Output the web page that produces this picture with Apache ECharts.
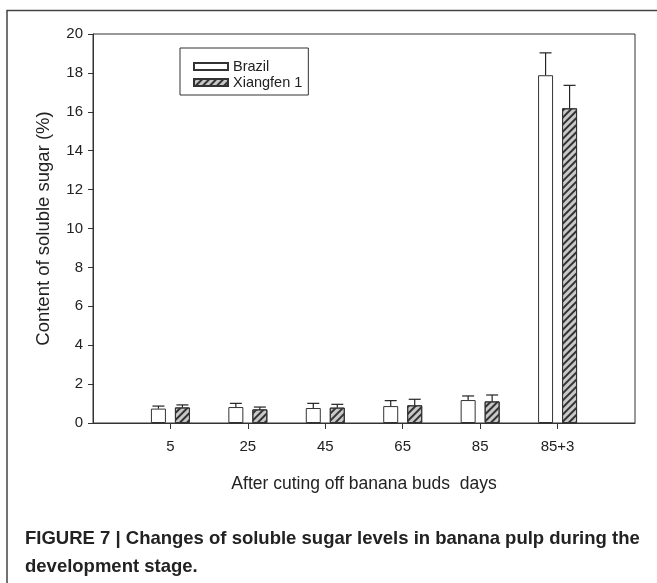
<!DOCTYPE html>
<html>
<head>
<meta charset="utf-8">
<script src="https://cdn.jsdelivr.net/npm/echarts@6/dist/echarts.min.js"></script>
<style>
  html, body { margin: 0; padding: 0; background: #fff; }
  #chart { width: 657px; height: 583px; }
</style>
</head>
<body>
<div id="chart"></div>
<script>
// categories (empty slots pad the axis on both ends)
const days = ['', '5', '25', '45', '65', '85', '85+3', ''];
const brazil = [0.74, 0.82, 0.77, 0.87, 1.18, 17.88];
const brazilErr = [0.13, 0.19, 0.24, 0.28, 0.21, 1.15];
const xiangfen = [0.80, 0.70, 0.79, 0.91, 1.11, 16.18];
const xiangfenErr = [0.13, 0.12, 0.17, 0.31, 0.33, 1.18];
const yTicks = { min: 0, max: 20, interval: 2 };

const chart = echarts.init(document.getElementById('chart'));

function barData(vals) {
  return vals.map((v, i) => [i + 1, v]);
}
function errData(vals, errs) {
  return vals.map((v, i) => [i + 1, v, errs[i]]);
}
// upper error bar with cap, shifted to sit on its own bar
function errRender(offset) {
  return function (params, api) {
    const base = api.coord([api.value(0), api.value(1)]);
    const top = api.coord([api.value(0), api.value(1) + api.value(2)]);
    const x = base[0] + offset;
    const st = { stroke: '#222', lineWidth: 1.2 };
    return {
      type: 'group',
      children: [
        { type: 'line', shape: { x1: x, y1: base[1], x2: x, y2: top[1] }, style: st },
        { type: 'line', shape: { x1: x - 6, y1: top[1], x2: x + 6, y2: top[1] }, style: st }
      ]
    };
  };
}

const txt = { fontFamily: 'Liberation Sans', color: '#222' };

chart.setOption({
  animation: false,
  grid: {
    left: 93, right: 22, top: 34, bottom: 160,
    show: true, borderColor: '#333', borderWidth: 1
  },
  legend: {
    orient: 'vertical',
    left: 180, top: 48,
    padding: [11, 6, 5, 13],
    itemGap: 1,
    itemWidth: 34, itemHeight: 7,
    icon: 'rect',
    borderColor: '#333', borderWidth: 1,
    textStyle: { ...txt, fontSize: 14.5 },
    data: ['Brazil', 'Xiangfen 1']
  },
  xAxis: {
    type: 'category',
    data: days,
    boundaryGap: false,
    name: 'After cuting off banana buds  days',
    nameLocation: 'middle',
    nameGap: 52,
    nameTextStyle: { ...txt, fontSize: 17.5 },
    axisLine: { lineStyle: { color: '#333', width: 1 } },
    axisTick: {
      length: 6, inside: false,
      interval: (i, v) => v !== '',
      lineStyle: { color: '#333' }
    },
    axisLabel: { ...txt, fontSize: 15, margin: 16, interval: 0 },
    splitLine: { show: false }
  },
  yAxis: {
    type: 'value',
    min: yTicks.min, max: yTicks.max, interval: yTicks.interval,
    name: 'Content of soluble sugar (%)',
    nameLocation: 'middle',
    nameGap: 40,
    nameTextStyle: { ...txt, fontSize: 18.5 },
    axisLine: { show: true, lineStyle: { color: '#333', width: 1 } },
    axisTick: { show: true, length: 5, lineStyle: { color: '#333' } },
    axisLabel: { ...txt, fontSize: 15, margin: 10 },
    splitLine: { show: false }
  },
  series: [
    {
      name: 'Brazil',
      type: 'bar',
      barWidth: 15,
      barGap: '60%',
      data: barData(brazil),
      itemStyle: { color: '#fff', borderColor: '#333', borderWidth: 1 }
    },
    {
      name: 'Xiangfen 1',
      type: 'bar',
      barWidth: 15,
      barGap: '60%',
      data: barData(xiangfen),
      itemStyle: {
        color: '#c8c8c8', borderColor: '#333', borderWidth: 1,
        decal: {
          symbol: 'rect', symbolSize: 1,
          dashArrayX: [1, 0], dashArrayY: [1.5, 2.2],
          rotation: -Math.PI / 4, color: '#333'
        }
      }
    },
    {
      type: 'custom',
      renderItem: errRender(-12),
      data: errData(brazil, brazilErr),
      z: 3
    },
    {
      type: 'custom',
      renderItem: errRender(12),
      data: errData(xiangfen, xiangfenErr),
      z: 3
    }
  ],
  graphic: [
    {
      type: 'polyline',
      shape: { points: [[7, 583], [7, 10.5], [657, 10.5]] },
      style: { stroke: '#444', lineWidth: 1.5, fill: null }
    },
    {
      type: 'text',
      left: 25, top: 525,
      style: {
        text: 'FIGURE 7 | Changes of soluble sugar levels in banana pulp during the\ndevelopment stage.',
        fontFamily: 'Liberation Sans', fontWeight: 'bold', fontSize: 18.5,
        lineHeight: 28, fill: '#222'
      }
    }
  ]
});
</script>
</body>
</html>
